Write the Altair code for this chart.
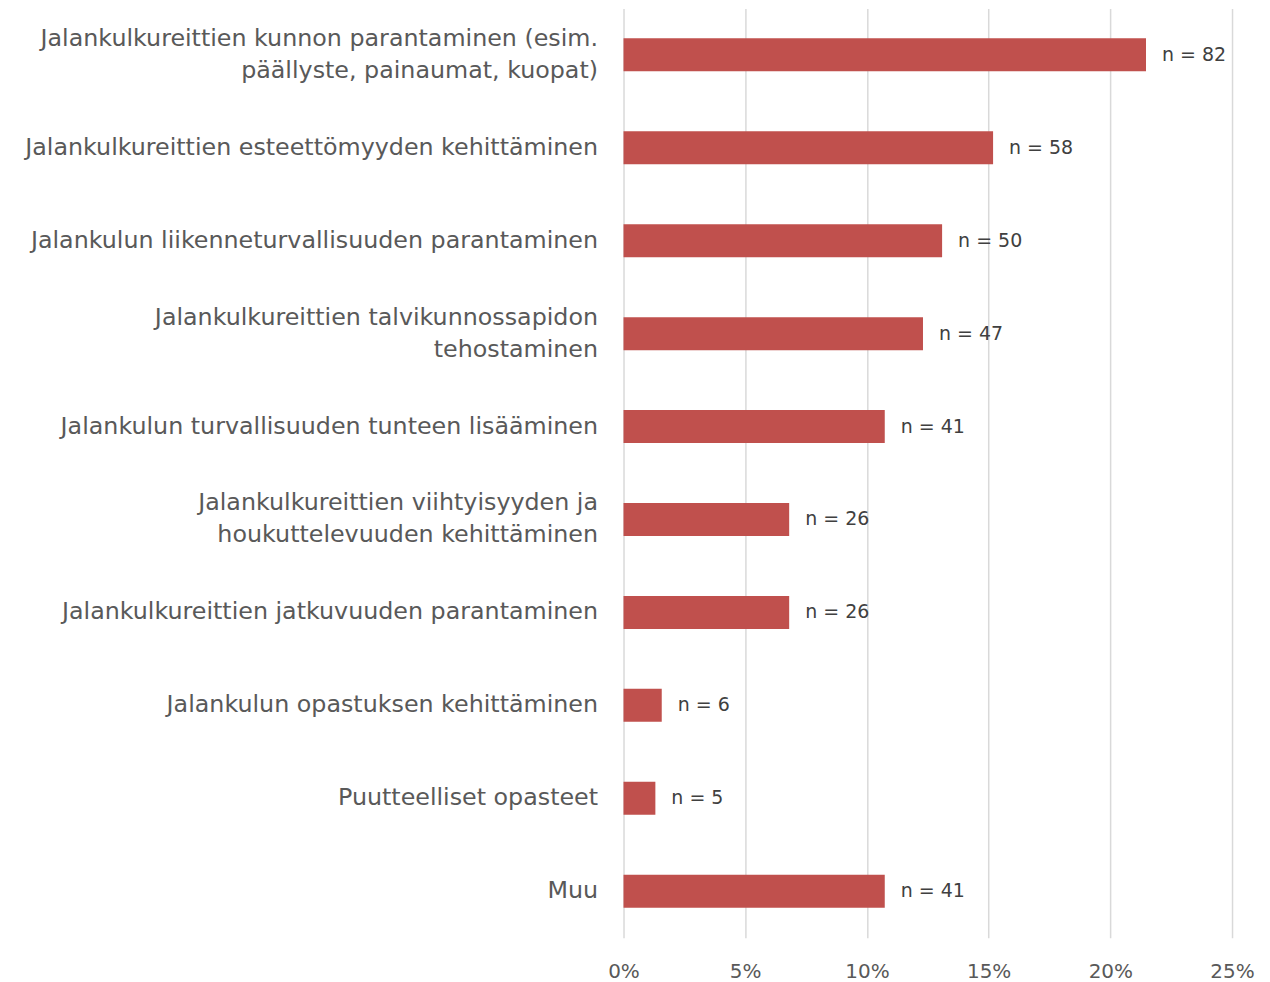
import altair as alt
import pandas as pd

categories = [
    "Jalankulkureittien kunnon parantaminen (esim.|päällyste, painaumat, kuopat)",
    "Jalankulkureittien esteettömyyden kehittäminen",
    "Jalankulun liikenneturvallisuuden parantaminen",
    "Jalankulkureittien talvikunnossapidon|tehostaminen",
    "Jalankulun turvallisuuden tunteen lisääminen",
    "Jalankulkureittien viihtyisyyden ja|houkuttelevuuden kehittäminen",
    "Jalankulkureittien jatkuvuuden parantaminen",
    "Jalankulun opastuksen kehittäminen",
    "Puutteelliset opasteet",
    "Muu",
]
counts = [82, 58, 50, 47, 41, 26, 26, 6, 5, 41]

df = pd.DataFrame({"cat": categories, "n": counts})
df["order"] = range(len(df))

FONT = "DejaVu Sans"

base = alt.Chart(df).transform_joinaggregate(
    total="sum(n)"
).transform_calculate(
    pct="datum.n / datum.total",
    lab="'n = ' + datum.n",
)

y_enc = alt.Y(
    "cat:N",
    sort=alt.SortField("order"),
    scale=alt.Scale(paddingInner=0.645, paddingOuter=0.3225),
    axis=alt.Axis(
        title=None,
        labelExpr="split(datum.label, '|')",
        labelFont=FONT,
        labelFontSize=23.8,
        labelColor="#595959",
        labelLimit=700,
        labelPadding=26,
        labelLineHeight=32,
        labelOffset={"condition": {"test": "indexof(datum.label, '|') >= 0", "value": -16}, "value": 0},
        ticks=False,
        domain=False,
        grid=False,
    ),
)

x_enc = alt.X(
    "pct:Q",
    scale=alt.Scale(domain=[0, 0.25], nice=False),
    axis=alt.Axis(
        title=None,
        format=".0%",
        values=[0, 0.05, 0.10, 0.15, 0.20, 0.25],
        labelFont=FONT,
        labelFontSize=20,
        labelColor="#595959",
        labelPadding=24,
        labelFlush=False,
        labelOverlap=False,
        ticks=False,
        domain=False,
        grid=True,
        gridColor="#d9d9d9",
        gridWidth=1.5,
    ),
)

bars = base.mark_bar(color="#C0504D").encode(x=x_enc, y=y_enc)

texts = base.mark_text(
    align="left", baseline="middle", dx=16, font=FONT, fontSize=19, color="#404040"
).encode(x="pct:Q", y=alt.Y("cat:N", sort=alt.SortField("order")), text="lab:N")

chart = (bars + texts).properties(
    width=609,
    height=930,
    autosize=alt.AutoSizeParams(type="none"),
    padding={"left": 616, "top": 0, "right": 30, "bottom": 50},
).configure_view(stroke=None)

chart.save("out.html", embed_options={"renderer": "svg", "actions": False})
